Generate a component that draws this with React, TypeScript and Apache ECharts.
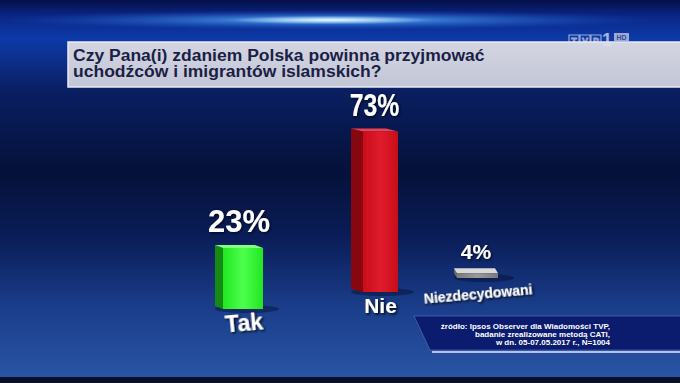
import React, { useEffect, useRef } from "react";
import * as echarts from "echarts";

const categories = ["Tak", "Nie", "Niezdecydowani"];
const values = [23, 73, 4];
const titleLines = [
  "Czy Pana(i) zdaniem Polska powinna przyjmować",
  "uchodźców i imigrantów islamskich?",
];
const sourceLines = [
  "źródło: Ipsos Observer dla Wiadomości TVP,",
  "badanie zrealizowane metodą CATI,",
  "w dn. 05-07.05.2017 r., N=1004",
];

const FONT = "'Liberation Sans', Arial, sans-serif";

// visual (perspective) settings per bar; grid = the front face band
const barLooks = [
  {
    grid: { left: 223, top: 44, width: 40, height: 265 },
    side: 8, depth: 3, gap: 8,
    front: ["#4dff4d", "#22e622"], sideColor: "#148a14", topColor: "#80ff80",
    labelSize: 31, labelScale: 1, catSize: 23, catWeight: "bold", rotate: 5, margin: 3,
  },
  {
    grid: { left: 363, top: 72, width: 35, height: 220 },
    side: 12, depth: 3, gap: 7,
    front: ["#e01c2c", "#c80d18"], sideColor: "#860710", topColor: "#ef4050",
    labelSize: 31, labelScale: 0.8, catSize: 21, catWeight: "bold", rotate: 0, margin: 3,
  },
  {
    grid: { left: 457, top: 158, width: 41, height: 120 },
    side: 3, depth: 5, gap: 6,
    front: ["#9a9a9a", "#7a7a7a"], sideColor: "#6a6a6a", topColor: "#d9d9d9",
    labelSize: 21, labelScale: 1, catSize: 14, catWeight: "bold", rotate: 5, margin: 9,
  },
];

export default function App() {
  const ref = useRef<HTMLDivElement>(null);
  useEffect(() => {
    document.body.style.margin = "0";
    const chart = echarts.init(ref.current!, undefined, { renderer: "svg" });

    const grids = barLooks.map((b) => ({ ...b.grid }));
    const xAxes = barLooks.map((b, i) => ({
      type: "category",
      gridIndex: i,
      data: [categories[i]],
      axisLine: { show: false },
      axisTick: { show: false },
      axisLabel: {
        color: "#ffffff",
        fontFamily: FONT,
        fontWeight: b.catWeight,
        fontSize: b.catSize,
        rotate: b.rotate,
        align: "center",
        verticalAlign: "top",
        margin: b.margin,
        textShadowColor: "rgba(0,0,15,0.95)",
        textShadowBlur: 2,
        textShadowOffsetX: 1.5,
        textShadowOffsetY: 1.5,
      },
    }));
    const yAxes = barLooks.map((b, i) => ({
      type: "value",
      gridIndex: i,
      min: 0,
      max: 100,
      show: false,
      splitLine: { show: false },
    }));

    const series = barLooks.map((b, i) => ({
      type: "custom",
      xAxisIndex: i,
      yAxisIndex: i,
      data: [[categories[i], values[i]]],
      renderItem: (params: any, api: any) => {
        const v = api.value(1);
        const top = api.coord([api.value(0), v]);
        const base = api.coord([api.value(0), 0]);
        const bw = api.size([1, 0])[0];
        const s = b.side;
        const t = b.depth;
        const F = base[0] - bw / 2; // front face left
        const L = F - s;
        const R = base[0] + bw / 2;
        const B = base[1];
        const T = top[1];
        return {
          type: "group",
          children: [
            {
              type: "ellipse",
              shape: { cx: (L + R) / 2 + 8, cy: B, rx: (R - L) / 2 + 8, ry: 4 },
              style: { fill: "rgba(0,4,25,0.35)" },
            },
            {
              type: "polygon",
              shape: { points: [[L, T - t], [F, T], [F, B], [L, B - t]] },
              style: { fill: b.sideColor },
            },
            {
              type: "polygon",
              shape: { points: [[L, T - t], [R - s, T - t], [R, T], [F, T]] },
              style: { fill: b.topColor },
            },
            {
              type: "rect",
              shape: { x: F, y: T, width: R - F, height: B - T },
              style: {
                fill: new echarts.graphic.LinearGradient(0, 0, 1, 0, [
                  { offset: 0, color: b.front[1] },
                  { offset: 0.5, color: b.front[0] },
                  { offset: 1, color: b.front[1] },
                ]),
              },
            },
            {
              type: "text",
              x: (L + R) / 2,
              y: T - t - b.gap,
              scaleX: b.labelScale,
              style: {
                text: v + "%",
                x: 0,
                y: 0,
                align: "center",
                verticalAlign: "bottom",
                fontFamily: FONT,
                fontWeight: "bold",
                fontSize: b.labelSize,
                fill: "#ffffff",
                textShadowColor: "rgba(0,0,20,0.9)",
                textShadowBlur: 3,
                textShadowOffsetX: 1,
                textShadowOffsetY: 1,
              },
            },
          ],
        };
      },
    }));

    const logoStroke = "rgba(215,220,238,0.7)";
    const graphic: any[] = [
      {
        type: "rect",
        z: -10,
        shape: { x: 0, y: 0, width: 680, height: 383 },
        style: {
          fill: new echarts.graphic.LinearGradient(0, 0, 0, 1, [
            { offset: 0, color: "#050f48" },
            { offset: 0.04, color: "#0a2684" },
            { offset: 0.1, color: "#0d3aa8" },
            { offset: 0.235, color: "#0a1f62" },
            { offset: 0.45, color: "#05113a" },
            { offset: 0.62, color: "#0a1d58" },
            { offset: 0.8, color: "#1a3d8a" },
            { offset: 1, color: "#2a57a6" },
          ]),
        },
      },
      {
        type: "circle",
        z: -9,
        x: 330,
        y: 20,
        scaleY: 0.03,
        shape: { cx: 0, cy: 0, r: 330 },
        style: {
          fill: new echarts.graphic.RadialGradient(0.5, 0.5, 0.5, [
            { offset: 0, color: "rgba(190,235,255,0.9)" },
            { offset: 0.35, color: "rgba(80,170,255,0.55)" },
            { offset: 1, color: "rgba(30,90,220,0)" },
          ]),
        },
      },
      {
        type: "circle",
        z: -8,
        x: 330,
        y: 20,
        scaleY: 0.045,
        shape: { cx: 0, cy: 0, r: 100 },
        style: {
          fill: new echarts.graphic.RadialGradient(0.5, 0.5, 0.5, [
            { offset: 0, color: "rgba(235,250,255,0.9)" },
            { offset: 1, color: "rgba(180,230,255,0)" },
          ]),
        },
      },
      {
        type: "rect",
        z: -7,
        shape: { x: 0, y: 377, width: 680, height: 6 },
        style: { fill: "#0a0f26" },
      },
      // title box
      {
        type: "rect",
        z: 5,
        shape: { x: 68, y: 42, width: 620, height: 45 },
        style: {
          fill: new echarts.graphic.LinearGradient(0, 0, 0, 1, [
            { offset: 0, color: "#d3d5e2" },
            { offset: 1, color: "#c3c6d6" },
          ]),
          stroke: "#e8eaf3",
          lineWidth: 1.5,
        },
      },
      {
        type: "text",
        z: 6,
        x: 73,
        y: 47.6,
        scaleX: 1.095,
        style: {
          text: titleLines.join("\n"),
          x: 0,
          y: 0,
          verticalAlign: "top",
          lineHeight: 16,
          fontFamily: FONT,
          fontWeight: "bold",
          fontSize: 16,
          fill: "#1b1f45",
        },
      },
      // TVP logo
      ...["T", "V", "P"].map((ch, i) => ({
        type: "group",
        z: 7,
        x: 569 + i * 11,
        y: 35,
        children: [
          {
            type: "rect",
            shape: { x: 0, y: 0, width: 10, height: 11 },
            style: { fill: "none", stroke: logoStroke, lineWidth: 1.2 },
          },
          {
            type: "text",
            style: {
              text: ch,
              x: 5,
              y: 6,
              align: "center",
              verticalAlign: "middle",
              fontFamily: FONT,
              fontWeight: "bold",
              fontSize: 9,
              fill: "rgba(200,205,225,0.35)",
              stroke: logoStroke,
              lineWidth: 0.8,
            },
          },
        ],
      })),
      {
        type: "text",
        z: 7,
        style: {
          text: "1",
          x: 607,
          y: 40,
          align: "center",
          verticalAlign: "middle",
          fontFamily: FONT,
          fontWeight: "bold",
          fontSize: 18,
          fill: "rgba(220,224,240,0.75)",
        },
      },
      {
        type: "rect",
        z: 7,
        shape: { x: 614, y: 33, width: 15, height: 8 },
        style: { fill: "rgba(215,220,238,0.7)" },
      },
      {
        type: "text",
        z: 8,
        style: {
          text: "HD",
          x: 621.5,
          y: 37,
          align: "center",
          verticalAlign: "middle",
          fontFamily: FONT,
          fontWeight: "bold",
          fontSize: 7,
          fill: "#3a4a90",
        },
      },
      // source box
      {
        type: "polygon",
        z: 5,
        shape: { points: [[414, 316], [682, 316], [682, 350], [430, 350]] },
        style: { fill: "#0b1b6e", stroke: "rgba(110,130,210,0.5)", lineWidth: 1 },
      },
      {
        type: "line",
        z: 6,
        shape: { x1: 432, y1: 352, x2: 680, y2: 352 },
        style: { stroke: "#e6eaff", lineWidth: 1.5 },
      },
      {
        type: "text",
        z: 7,
        style: {
          text: sourceLines.join("\n"),
          x: 610,
          y: 322,
          align: "right",
          verticalAlign: "top",
          lineHeight: 8,
          fontFamily: FONT,
          fontWeight: "bold",
          fontSize: 8,
          fill: "#ffffff",
        },
      },
    ];

    chart.setOption({
      animation: false,
      backgroundColor: "#06133f",
      grid: grids,
      xAxis: xAxes,
      yAxis: yAxes,
      series,
      graphic,
    } as any);
    return () => chart.dispose();
  }, []);

  return (
    <div
      ref={ref}
      style={{ position: "fixed", left: 0, top: 0, width: 680, height: 383 }}
    />
  );
}
